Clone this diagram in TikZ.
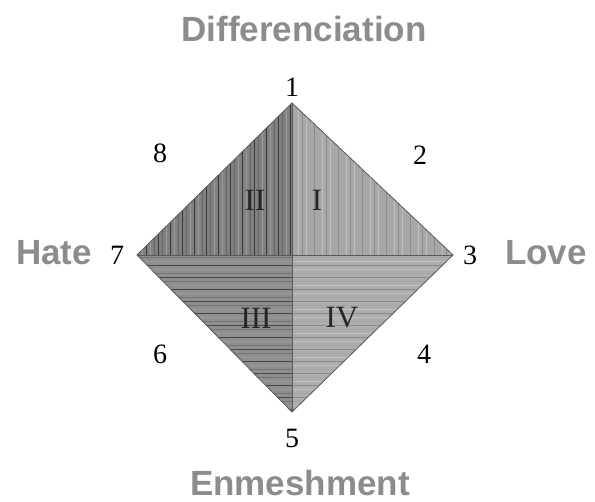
\documentclass[tikz,border=0pt]{standalone}
\usepackage{fontspec}
\setmainfont{Liberation Serif}
\newfontfamily\labfont{Liberation Sans}
\definecolor{qII}{gray}{0.50}
\definecolor{qI}{gray}{0.66}
\definecolor{qIII}{gray}{0.56}
\definecolor{qIV}{gray}{0.68}
\definecolor{labgray}{gray}{0.55}
\tikzset{
  axislabel/.style={font=\labfont\bfseries\fontsize{35}{35}\selectfont, text=labgray, inner sep=0pt, anchor=base},
  numlabel/.style={font=\fontsize{28}{28}\selectfont, text=black, inner sep=0pt},
  romlabel/.style={font=\fontsize{31}{31}\selectfont, text=black!85, inner sep=0pt},
  hatchline/.style={line width=0.9pt},
  edge/.style={draw=black!65, line width=0.8pt}
}
\begin{document}
\begin{tikzpicture}[x=1pt,y=1pt]
\useasboundingbox (0,0) rectangle (595,502);
\coordinate (T) at (292,399);
\coordinate (R) at (453,247);
\coordinate (B) at (292,90);
\coordinate (L) at (137,247);
\coordinate (C) at (292,247);
% quadrant fills
\fill[qII] (L) -- (T) -- (C) -- cycle;
\fill[qI] (T) -- (R) -- (C) -- cycle;
\fill[qIII] (L) -- (C) -- (B) -- cycle;
\fill[qIV] (C) -- (R) -- (B) -- cycle;
% hatching
\begin{scope}
\clip (L) -- (T) -- (C) -- cycle;
\foreach \x [count=\i] in {138,142,...,292} {
  \pgfmathsetmacro\s{mod(\i,3)==0 ? 78 : (mod(\i,2)==0 ? 38 : 60)}
  \draw[hatchline, black!\s] (\x,240) -- (\x,400);
}
\end{scope}
\begin{scope}
\clip (T) -- (R) -- (C) -- cycle;
\foreach \x [count=\i] in {294,298,...,453} {
  \pgfmathsetmacro\s{mod(\i,3)==0 ? 45 : (mod(\i,2)==0 ? 25 : 35)}
  \draw[hatchline, black!\s] (\x,240) -- (\x,400);
}
\end{scope}
\begin{scope}
\clip (L) -- (C) -- (B) -- cycle;
\foreach \y [count=\i] in {245,241,...,90} {
  \pgfmathsetmacro\s{mod(\i,3)==0 ? 72 : (mod(\i,2)==0 ? 40 : 55)}
  \draw[hatchline, black!\s] (130,\y) -- (292,\y);
}
\end{scope}
\begin{scope}
\clip (C) -- (R) -- (B) -- cycle;
\foreach \y [count=\i] in {245,241,...,90} {
  \pgfmathsetmacro\s{mod(\i,3)==0 ? 45 : (mod(\i,2)==0 ? 25 : 35)}
  \draw[hatchline, black!\s] (292,\y) -- (460,\y);
}
\end{scope}
% outline and axes
\draw[edge] (L) -- (T) -- (R) -- (B) -- cycle;
\draw[edge] (T) -- (B);
\draw[edge] (L) -- (R);
% vertex numbers
\node[numlabel] (n1) at (292,415) {1};
\node[numlabel] (n2) at (420,347) {2};
\node[numlabel] (n3) at (470,247) {3};
\node[numlabel] (n4) at (424,148) {4};
\node[numlabel] (n5) at (292,64) {5};
\node[numlabel] (n6) at (160,148) {6};
\node[numlabel] (n7) at (117,247) {7};
\node[numlabel] (n8) at (160,349) {8};
% quadrant numerals
\node[romlabel] (qi) at (317,302) {I};
\node[romlabel] (qii) at (255,302) {II};
\node[romlabel] (qiii) at (256,184) {III};
\node[romlabel] (qiv) at (342,184) {IV};
% axis labels
\node[axislabel] (dif) at (304,460) {Differenciation};
\node[axislabel] (love) at (546,237) {Love};
\node[axislabel] (hate) at (54,237) {Hate};
\node[axislabel] (enm) at (300,6) {Enmeshment};
\end{tikzpicture}
\end{document}
